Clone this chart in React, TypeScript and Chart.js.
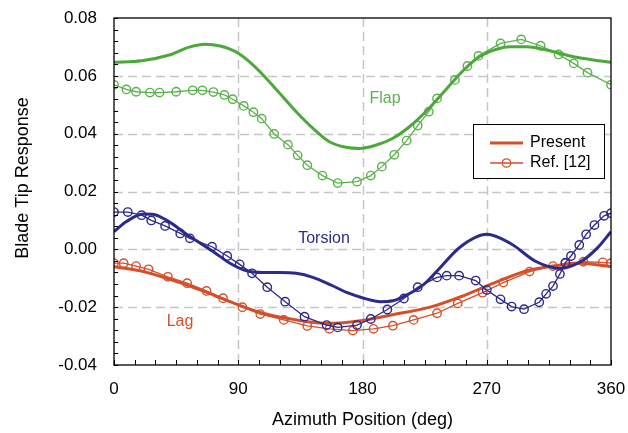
import React, { useEffect, useRef } from "react";
import { Chart, registerables } from "chart.js";

Chart.register(...registerables);

const FONT = "'Liberation Sans', Arial, sans-serif";

// Axis ticks
const xTickValues = [0, 90, 180, 270, 360];
const yTickValues = [-0.04, -0.02, 0, 0.02, 0.04, 0.06, 0.08];
const xGridValues = [90, 180, 270];
const yGridValues = [-0.02, 0, 0.02, 0.04, 0.06];
const xMinorStep = 15;
const yMinorStep = 0.004;

// Flap
const flapPresentDeg = [0, 20, 40, 55, 66, 77, 84, 90, 98, 108, 120, 132, 144, 156, 168, 178, 190, 202, 214, 227, 239, 251, 263, 275, 287, 299, 311, 323, 335, 347, 360];
const flapPresentVal = [0.0647, 0.0652, 0.0672, 0.0700, 0.0709, 0.0703, 0.0692, 0.0678, 0.0649, 0.0603, 0.0540, 0.0476, 0.0419, 0.0372, 0.0353, 0.0349, 0.0361, 0.0384, 0.0424, 0.0482, 0.0545, 0.0609, 0.0661, 0.0689, 0.0701, 0.0701, 0.0692, 0.0678, 0.0664, 0.0655, 0.0647];
const flapRefDeg = [0, 9, 16, 26, 33, 45, 57, 64, 72, 80, 86, 94, 101, 107, 116, 126, 133, 140, 151, 162, 176, 186, 194, 203, 212, 220, 228, 234, 247, 256, 264, 280, 295, 309, 322, 333, 343, 360];
const flapRefVal = [0.0569, 0.0553, 0.0545, 0.0542, 0.0542, 0.0545, 0.0550, 0.0550, 0.0544, 0.0534, 0.0519, 0.0496, 0.0474, 0.0452, 0.0399, 0.0362, 0.0325, 0.0291, 0.0255, 0.0229, 0.0234, 0.0255, 0.0286, 0.0327, 0.0376, 0.0428, 0.0476, 0.0522, 0.0586, 0.0634, 0.0669, 0.0712, 0.0726, 0.0704, 0.0674, 0.0643, 0.0611, 0.0569];

// Torsion
const torsionPresentDeg = [0, 9, 21, 28, 38, 55, 72, 84, 96, 108, 120, 132, 144, 157, 169, 181, 193, 202, 212, 224, 234, 251, 270, 287, 306, 323, 338, 350, 360];
const torsionPresentVal = [0.0061, 0.0096, 0.0122, 0.0121, 0.0101, 0.0044, -0.0008, -0.0048, -0.0074, -0.0080, -0.0080, -0.0083, -0.0097, -0.0123, -0.0150, -0.0169, -0.0181, -0.0178, -0.0158, -0.0123, -0.0075, 0.0009, 0.0052, 0.0021, -0.0043, -0.0066, -0.0043, 0.0004, 0.0061];
const torsionRefDeg = [0, 10, 20, 27, 37, 48, 55, 71, 82, 91, 100, 111, 124, 138, 154, 162, 176, 186, 198, 210, 220, 234, 241, 250, 262, 270, 280, 288, 297, 308, 313, 318, 323, 327, 331, 337, 342, 348, 355, 360];
const torsionRefVal = [0.0129, 0.0129, 0.0118, 0.0100, 0.0081, 0.0055, 0.0038, 0.0009, -0.0023, -0.0052, -0.0083, -0.0131, -0.0181, -0.0233, -0.0262, -0.0270, -0.0262, -0.0241, -0.0208, -0.0170, -0.0131, -0.0097, -0.0091, -0.0091, -0.0108, -0.0141, -0.0173, -0.0198, -0.0207, -0.0183, -0.0154, -0.0127, -0.0085, -0.0046, -0.0023, 0.0015, 0.0052, 0.0084, 0.0116, 0.0125];

// Lag
const lagPresentDeg = [0, 19, 38, 55, 72, 84, 108, 132, 156, 180, 205, 229, 251, 275, 299, 318, 338, 360];
const lagPresentVal = [-0.0060, -0.0074, -0.0100, -0.0127, -0.0158, -0.0181, -0.0221, -0.0244, -0.0256, -0.0246, -0.0223, -0.0200, -0.0164, -0.0117, -0.0074, -0.0058, -0.0048, -0.0060];
const lagRefDeg = [0, 7, 16, 25, 39, 53, 67, 79, 93, 106, 123, 140, 156, 173, 188, 202, 217, 234, 249, 267, 282, 301, 318, 327, 340, 354, 360];
const lagRefVal = [-0.0048, -0.0048, -0.0058, -0.0069, -0.0095, -0.0117, -0.0144, -0.0169, -0.0200, -0.0224, -0.0244, -0.0265, -0.0275, -0.0281, -0.0275, -0.0264, -0.0244, -0.0221, -0.0187, -0.0150, -0.0115, -0.0077, -0.0058, -0.0048, -0.0043, -0.0045, -0.0048];

const GREEN = "#4ca83c";
const GREEN_REF = "#5cb24c";
const NAVY = "#2c2a8a";
const ORANGE = "#d4502b";

const zip = (xs: number[], ys: number[]) => xs.map((x, i) => ({ x, y: ys[i] }));

const presentDs = (label: string, xs: number[], ys: number[], color: string) => ({
  label,
  data: zip(xs, ys),
  borderColor: color,
  backgroundColor: color,
  borderWidth: 3,
  pointRadius: 0,
  cubicInterpolationMode: "monotone" as const,
  fill: false,
});

const refDs = (label: string, xs: number[], ys: number[], color: string) => ({
  label,
  data: zip(xs, ys),
  borderColor: color,
  backgroundColor: "rgba(0,0,0,0)",
  borderWidth: 1.3,
  pointRadius: 4.2,
  pointStyle: "circle" as const,
  pointBorderColor: color,
  pointBackgroundColor: "rgba(0,0,0,0)",
  pointBorderWidth: 1.4,
  tension: 0,
  fill: false,
});

const fmt = (v: number) => (Math.abs(v) < 1e-9 ? "0.00" : v.toFixed(2));

const decorPlugin = {
  id: "decor",
  beforeDatasetsDraw(chart: any) {
    const { ctx, chartArea: a, scales } = chart;
    const x = scales.x;
    const y = scales.y;
    ctx.save();
    ctx.strokeStyle = "#c6c6c6";
    ctx.lineWidth = 1.5;
    ctx.setLineDash([9, 5]);
    for (const v of xGridValues) {
      const px = Math.round(x.getPixelForValue(v)) + 0.5;
      ctx.beginPath();
      ctx.moveTo(px, a.top);
      ctx.lineTo(px, a.bottom);
      ctx.stroke();
    }
    for (const v of yGridValues) {
      const py = Math.round(y.getPixelForValue(v)) + 0.5;
      ctx.beginPath();
      ctx.moveTo(a.left, py);
      ctx.lineTo(a.right, py);
      ctx.stroke();
    }
    ctx.restore();
  },
  afterDatasetsDraw(chart: any) {
    const { ctx, chartArea: a, scales } = chart;
    const x = scales.x;
    const y = scales.y;
    ctx.save();
    ctx.setLineDash([]);
    ctx.strokeStyle = "#000";
    ctx.lineWidth = 1.3;
    ctx.strokeRect(a.left, a.top, a.right - a.left, a.bottom - a.top);
    ctx.lineWidth = 1;
    for (let v = x.min; v <= x.max + 1e-9; v += xMinorStep) {
      const px = Math.round(x.getPixelForValue(v)) + 0.5;
      ctx.beginPath();
      ctx.moveTo(px, a.bottom);
      ctx.lineTo(px, a.bottom - 5);
      ctx.stroke();
    }
    for (let v = y.min; v <= y.max + 1e-9; v += yMinorStep) {
      const py = Math.round(y.getPixelForValue(v)) + 0.5;
      ctx.beginPath();
      ctx.moveTo(a.left, py);
      ctx.lineTo(a.left + 4, py);
      ctx.stroke();
    }
    ctx.restore();
  },
  afterDraw(chart: any) {
    const { ctx } = chart;
    ctx.save();
    // y-axis title
    ctx.fillStyle = "#000";
    ctx.font = `18px ${FONT}`;
    ctx.textAlign = "center";
    ctx.textBaseline = "middle";
    ctx.translate(23, 178);
    ctx.rotate(-Math.PI / 2);
    ctx.fillText("Blade Tip Response", 0, 0);
    ctx.restore();

    ctx.save();
    ctx.font = `16px ${FONT}`;
    ctx.textAlign = "center";
    ctx.textBaseline = "middle";
    ctx.fillStyle = GREEN_REF;
    ctx.fillText("Flap", 385, 99);
    ctx.fillStyle = NAVY;
    ctx.fillText("Torsion", 324, 239);
    ctx.fillStyle = ORANGE;
    ctx.fillText("Lag", 180, 322);

    // legend
    ctx.fillStyle = "#fff";
    ctx.fillRect(473.5, 124.5, 131, 54);
    ctx.strokeStyle = "#000";
    ctx.lineWidth = 1;
    ctx.strokeRect(473.5, 124.5, 131, 54);
    ctx.strokeStyle = ORANGE;
    ctx.lineWidth = 3;
    ctx.beginPath();
    ctx.moveTo(490, 143);
    ctx.lineTo(523, 143);
    ctx.stroke();
    ctx.lineWidth = 1.3;
    ctx.beginPath();
    ctx.moveTo(490, 163);
    ctx.lineTo(523, 163);
    ctx.stroke();
    ctx.beginPath();
    ctx.arc(506.5, 163, 4.2, 0, Math.PI * 2);
    ctx.stroke();
    ctx.fillStyle = "#000";
    ctx.textAlign = "left";
    ctx.font = `16px ${FONT}`;
    ctx.fillText("Present", 530, 143);
    ctx.fillText("Ref. [12]", 530, 163);
    ctx.restore();
  },
};

export default function App() {
  const canvasRef = useRef<HTMLCanvasElement | null>(null);

  useEffect(() => {
    const canvas = canvasRef.current;
    if (!canvas) return;
    const chart = new Chart(canvas, {
      type: "line",
      data: {
        datasets: [
          presentDs("Flap Present", flapPresentDeg, flapPresentVal, GREEN),
          refDs("Flap Ref", flapRefDeg, flapRefVal, GREEN_REF),
          presentDs("Torsion Present", torsionPresentDeg, torsionPresentVal, NAVY),
          refDs("Torsion Ref", torsionRefDeg, torsionRefVal, NAVY),
          presentDs("Lag Present", lagPresentDeg, lagPresentVal, ORANGE),
          refDs("Lag Ref", lagRefDeg, lagRefVal, ORANGE),
        ] as any,
      },
      options: {
        animation: false,
        responsive: false,
        maintainAspectRatio: false,
        layout: { padding: { top: 18, right: 17, bottom: 0, left: 0 } },
        plugins: {
          legend: { display: false },
          tooltip: { enabled: false },
        },
        scales: {
          x: {
            type: "linear",
            min: 0,
            max: 360,
            afterBuildTicks: (s: any) => {
              s.ticks = xTickValues.map((v) => ({ value: v }));
            },
            afterFit: (s: any) => {
              s.height = 68;
              s.paddingLeft = 0;
              s.paddingRight = 0;
            },
            grid: { display: false, drawTicks: false },
            border: { display: false },
            ticks: {
              color: "#000",
              font: { family: FONT, size: 17 },
              padding: 14,
              maxRotation: 0,
              autoSkip: false,
            },
            title: {
              display: true,
              text: "Azimuth Position (deg)",
              color: "#000",
              font: { family: FONT, size: 18 },
              padding: { top: 0, bottom: 2 },
            },
          },
          y: {
            type: "linear",
            min: -0.04,
            max: 0.08,
            afterBuildTicks: (s: any) => {
              s.ticks = yTickValues.map((v) => ({ value: v }));
            },
            afterFit: (s: any) => {
              s.width = 114;
              s.paddingTop = 0;
              s.paddingBottom = 0;
            },
            grid: { display: false, drawTicks: false },
            border: { display: false },
            ticks: {
              color: "#000",
              font: { family: FONT, size: 17 },
              padding: 17,
              autoSkip: false,
              callback: (v: any) => fmt(Number(v)),
            },
          },
        },
      } as any,
      plugins: [decorPlugin],
    });
    return () => chart.destroy();
  }, []);

  return (
    <div style={{ position: "absolute", left: 0, top: 0, width: 628, height: 433, background: "#fff" }}>
      <canvas ref={canvasRef} width={628} height={433} style={{ display: "block", width: 628, height: 433 }} />
    </div>
  );
}
